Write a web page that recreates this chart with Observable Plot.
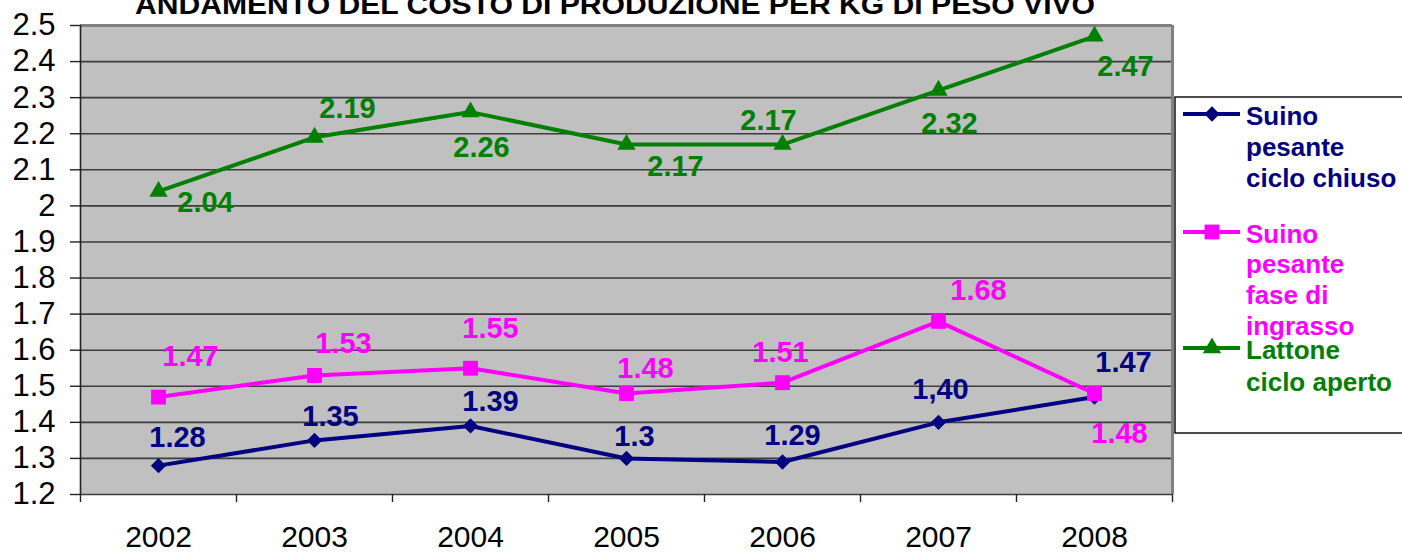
<!DOCTYPE html>
<html>
<head>
<meta charset="utf-8">
<script src="https://cdn.jsdelivr.net/npm/d3@7"></script>
<script src="https://cdn.jsdelivr.net/npm/@observablehq/plot@0.6"></script>
<style>
  html, body { margin: 0; padding: 0; background: white; }
  #wrap { position: relative; width: 1402px; height: 554px; overflow: hidden; font-family: "Liberation Sans", Arial, sans-serif; }
  #wrap svg.overlay { position: absolute; left: 0; top: 0; pointer-events: none; }
</style>
</head>
<body>
<div id="wrap"></div>
<script>
// ---- data ----
const years = [2002, 2003, 2004, 2005, 2006, 2007, 2008];
const cicloChiuso = [1.28, 1.35, 1.39, 1.30, 1.29, 1.40, 1.47];
const faseIngrasso = [1.47, 1.53, 1.55, 1.48, 1.51, 1.68, 1.48];
const lattone = [2.04, 2.19, 2.26, 2.17, 2.17, 2.32, 2.47];
const labelsChiuso = ["1.28", "1.35", "1.39", "1.3", "1.29", "1,40", "1.47"];
const labelsIngrasso = ["1.47", "1.53", "1.55", "1.48", "1.51", "1.68", "1.48"];
const labelsLattone = ["2.04", "2.19", "2.26", "2.17", "2.17", "2.32", "2.47"];
const seriesNames = ["Suino pesante ciclo chiuso", "Suino pesante fase di ingrasso", "Lattone ciclo aperto"];
const legendLines = [["Suino", "pesante", "ciclo chiuso"], ["Suino", "pesante", "fase di", "ingrasso"], ["Lattone", "ciclo aperto"]];
const yTicks = [1.2, 1.3, 1.4, 1.5, 1.6, 1.7, 1.8, 1.9, 2.0, 2.1, 2.2, 2.3, 2.4, 2.5];
const title = "ANDAMENTO DEL COSTO DI PRODUZIONE PER KG DI PESO VIVO";

// ---- layout (label offsets in px, not data) ----
const offChiuso = [[19,-28],[16,-24],[20,-24],[8,-22],[10,-26],[2,-33],[29,-34]];
const offIngrasso = [[32,-40],[29,-32],[20,-40],[19,-25],[-2,-30],[40,-31],[25,40]];
const offLattone = [[47,11],[33,-29],[11,36],[49,22],[-14,-24],[11,33],[31,30]];

const colors = ["#000080", "#FF00FF", "#008000"];
const symbols = ["diamond2", "square", "triangle"];
const radii = [6.9, 8.4, 6.8];
const font = '"Liberation Sans", Arial, sans-serif';

const seriesVals = [cicloChiuso, faseIngrasso, lattone];
const seriesLabels = [labelsChiuso, labelsIngrasso, labelsLattone];
const seriesOffs = [offChiuso, offIngrasso, offLattone];

const data = seriesVals.map((vals, s) => years.map((year, i) => ({year, v: vals[i], label: seriesLabels[s][i], series: seriesNames[s]})));

const boundaries = [2001.5, 2002.5, 2003.5, 2004.5, 2005.5, 2006.5, 2007.5, 2008.5];

const marks = [
  Plot.frame({fill: "#C0C0C0", stroke: null}),
  Plot.ruleY(yTicks.slice(0, -1), {stroke: "#3c3c3c", strokeWidth: 1.6}),
  Plot.ruleY([2.5], {stroke: "#808080", strokeWidth: 3}),
  Plot.ruleX([2008.5], {stroke: "#808080", strokeWidth: 3}),
  Plot.ruleX([2001.5], {stroke: "#222", strokeWidth: 1.6}),
  Plot.axisY({ticks: yTicks, tickSize: 10, tickPadding: 15, fontSize: 31, fill: "black", stroke: "#222", strokeWidth: 1.4, tickFormat: d => String(+d.toFixed(1))}),
  Plot.axisX({ticks: boundaries, tickSize: 8, tickFormat: () => "", stroke: "#222", strokeWidth: 1.4}),
  Plot.axisX({ticks: years, tickSize: 0, tickPadding: 31, fontSize: 30, fill: "black", tickFormat: d => String(d)})
];

data.forEach((d, s) => {
  marks.push(Plot.line(d, {x: "year", y: "v", stroke: colors[s], strokeWidth: 4}));
  marks.push(Plot.dot(d, {x: "year", y: "v", symbol: symbols[s], r: radii[s], fill: colors[s], stroke: null}));
});
data.forEach((d, s) => {
  d.forEach((p, i) => {
    const [dx, dy] = seriesOffs[s][i];
    marks.push(Plot.text([p], {x: "year", y: "v", text: "label", dx, dy, fill: colors[s], fontSize: 29, fontWeight: "bold", textAnchor: "middle", lineAnchor: "middle"}));
  });
});

const chart = Plot.plot({
  width: 1402,
  height: 554,
  marginLeft: 80,
  marginRight: 230,
  marginTop: 25,
  marginBottom: 60,
  x: {type: "linear", domain: [2001.5, 2008.5], label: null},
  y: {domain: [1.2, 2.5], label: null},
  style: {background: "white", fontFamily: font, color: "black"},
  marks
});

const wrap = document.getElementById("wrap");
wrap.appendChild(chart);

// ---- title + legend overlay ----
const ov = d3.select(wrap).append("svg").attr("class", "overlay").attr("width", 1402).attr("height", 554);
ov.append("text")
  .attr("x", 615).attr("y", 14)
  .attr("text-anchor", "middle")
  .attr("font-family", '"Liberation Sans Narrow", "Liberation Sans", Arial, sans-serif')
  .attr("font-weight", "bold").attr("font-size", 27)
  .attr("textLength", 960).attr("lengthAdjust", "spacingAndGlyphs")
  .attr("fill", "black")
  .text(title);

ov.append("rect").attr("x", 1175).attr("y", 97).attr("width", 260).attr("height", 336)
  .attr("fill", "white").attr("stroke", "#111").attr("stroke-width", 1.5);

const legendY = [114, 232, 348];
const legendBase = [[125, 156, 187], [243, 273, 304, 335], [359, 391]];
const sym = [d3.symbolDiamond2, d3.symbolSquare, d3.symbolTriangle];
legendLines.forEach((lines, s) => {
  ov.append("line").attr("x1", 1183).attr("x2", 1240).attr("y1", legendY[s]).attr("y2", legendY[s])
    .attr("stroke", colors[s]).attr("stroke-width", 4);
  ov.append("path").attr("d", d3.symbol(sym[s], radii[s] * radii[s] * Math.PI)())
    .attr("transform", `translate(1212,${legendY[s]})`).attr("fill", colors[s]);
  lines.forEach((t, j) => {
    ov.append("text").attr("x", 1246).attr("y", legendBase[s][j])
      .attr("font-family", font).attr("font-weight", "bold").attr("font-size", 26)
      .attr("fill", colors[s]).text(t);
  });
});
</script>
</body>
</html>
